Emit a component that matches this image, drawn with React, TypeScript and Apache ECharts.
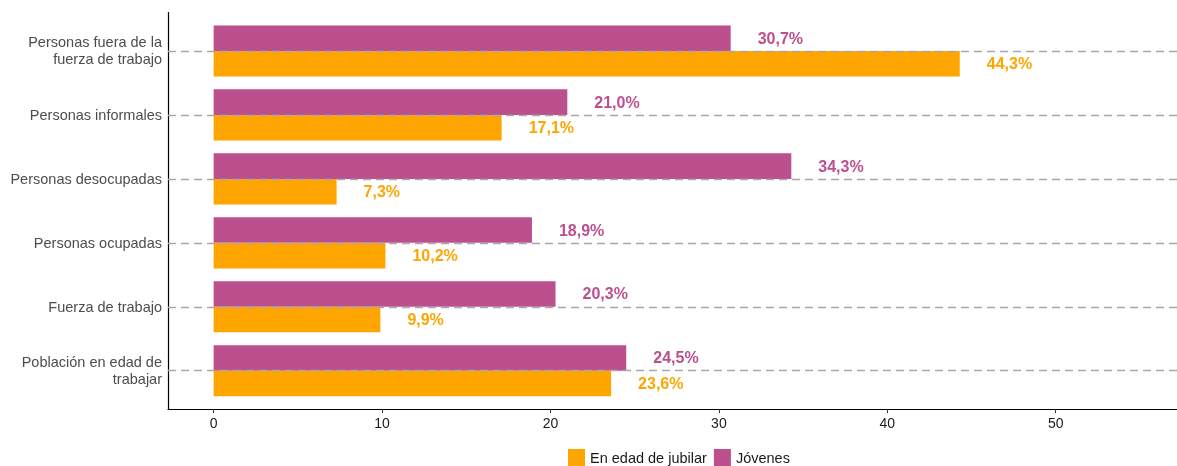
import React, { useEffect, useRef } from "react";
import * as echarts from "echarts";

const categories = [
  "Personas fuera de la\nfuerza de trabajo",
  "Personas informales",
  "Personas desocupadas",
  "Personas ocupadas",
  "Fuerza de trabajo",
  "Población en edad de\ntrabajar",
];
const jovenes = [30.7, 21.0, 34.3, 18.9, 20.3, 24.5];
const jubilar = [44.3, 17.1, 7.3, 10.2, 9.9, 23.6];
const xTicks = [0, 10, 20, 30, 40, 50];
const seriesNames = ["En edad de jubilar", "Jóvenes"];

const PURPLE = "#BC4F8E";
const ORANGE = "#FFA500";
const FONT = "'Liberation Sans', Arial, sans-serif";

export default function App() {
  const ref = useRef<HTMLDivElement>(null);
  useEffect(() => {
    if (!ref.current) return;
    const chart = echarts.init(ref.current, null, { renderer: "svg" });
    const fmt = (p: any) => p.value.toFixed(1).replace(".", ",") + "%";
    const xMin = -2.71;
    const xMax = 57.2;
    const labelCfg = (color: string) => ({
      show: true,
      position: "right",
      distance: 27,
      formatter: fmt,
      color,
      fontWeight: "bold",
      fontSize: 16,
      fontFamily: FONT,
    });
    chart.setOption({
      animation: false,
      textStyle: { fontFamily: FONT },
      legend: {
        data: seriesNames,
        left: 568,
        top: 449,
        padding: 0,
        itemWidth: 17,
        itemHeight: 17,
        itemGap: 7,
        icon: "rect",
        textStyle: { fontSize: 14.5, color: "#1a1a1a", fontFamily: FONT },
      },
      grid: [
        { left: 168, right: 0, top: 12.5, height: 396.5 },
        { left: 168, right: 0, top: 19, height: 383.7 },
      ],
      xAxis: [
        {
          gridIndex: 0,
          type: "value",
          min: xMin,
          max: xMax,
          axisLine: { show: true, lineStyle: { color: "#000", width: 1.2 } },
          axisTick: { show: true, length: 4, customValues: xTicks, lineStyle: { color: "#333" } },
          axisLabel: {
            customValues: xTicks,
            fontSize: 14,
            color: "#1a1a1a",
            margin: 7,
            fontFamily: FONT,
          },
          splitLine: { show: false },
        },
        {
          gridIndex: 1,
          type: "value",
          min: xMin,
          max: xMax,
          show: false,
          splitLine: { show: false },
        },
      ],
      yAxis: [
        {
          gridIndex: 0,
          type: "value",
          min: 0,
          max: 1,
          axisLine: { show: true, onZero: false, lineStyle: { color: "#000", width: 1.2 } },
          axisTick: { show: false },
          axisLabel: { show: false },
          splitLine: { show: false },
        },
        {
          gridIndex: 1,
          type: "category",
          data: categories,
          inverse: true,
          axisLine: { show: false },
          axisTick: { show: true, length: 4, alignWithLabel: true, lineStyle: { color: "#333" } },
          axisLabel: {
            fontSize: 14.5,
            color: "#4D4D4D",
            margin: 6,
            lineHeight: 17,
            align: "right",
            fontFamily: FONT,
          },
          splitLine: { show: false },
        },
      ],
      series: [
        {
          name: "guides",
          type: "line",
          xAxisIndex: 1,
          yAxisIndex: 1,
          data: [],
          silent: true,
          markLine: {
            silent: true,
            symbol: "none",
            label: { show: false },
            lineStyle: { color: "#A8A8A8", type: [8, 5], width: 1.4 },
            data: categories.map((c) => ({ yAxis: c })),
          },
          z: 1,
        },
        {
          name: "Jóvenes",
          type: "bar",
          xAxisIndex: 1,
          yAxisIndex: 1,
          data: jovenes,
          barGap: "0%",
          barCategoryGap: "20%",
          itemStyle: { color: PURPLE },
          label: labelCfg(PURPLE),
          z: 2,
        },
        {
          name: "En edad de jubilar",
          type: "bar",
          xAxisIndex: 1,
          yAxisIndex: 1,
          data: jubilar,
          barGap: "0%",
          barCategoryGap: "20%",
          itemStyle: { color: ORANGE },
          label: labelCfg(ORANGE),
          z: 2,
        },
      ],
    });
    return () => chart.dispose();
  }, []);
  return (
    <div
      ref={ref}
      style={{ position: "fixed", left: 0, top: 0, width: 1177, height: 466 }}
    />
  );
}
